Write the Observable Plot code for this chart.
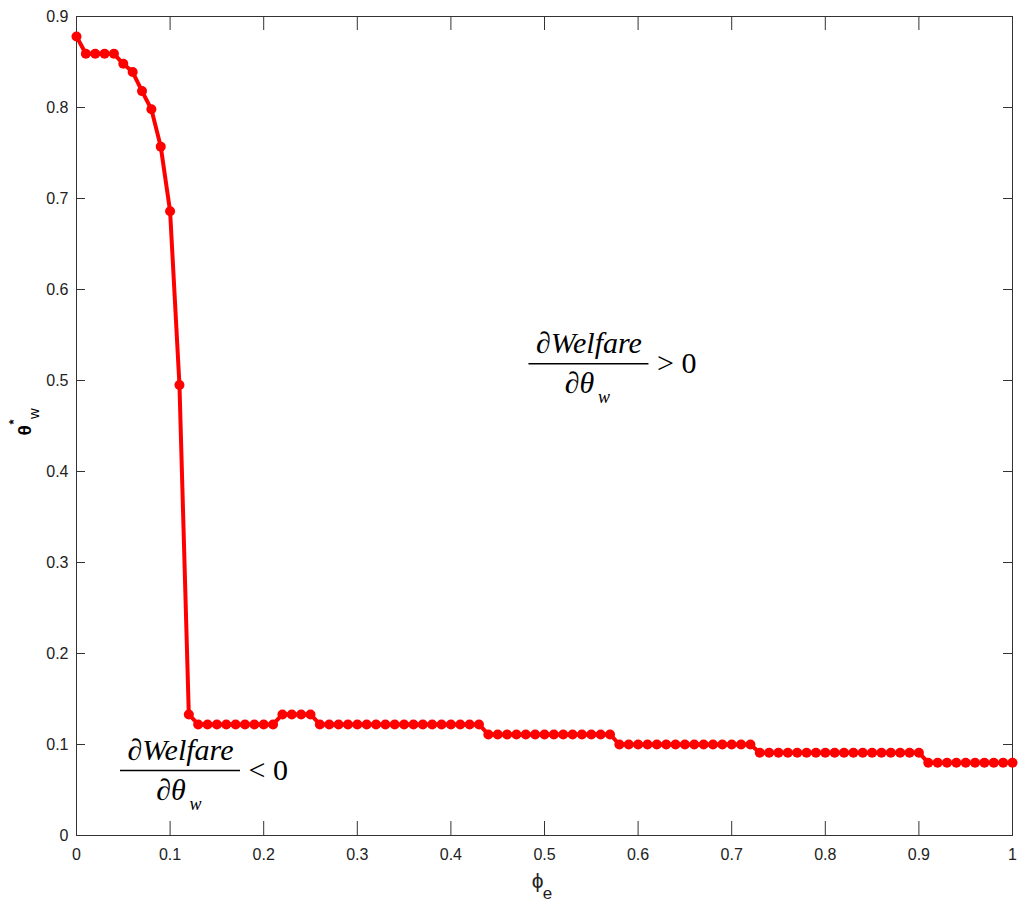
<!DOCTYPE html>
<html><head><meta charset="utf-8">
<script src="https://cdn.jsdelivr.net/npm/d3@7"></script>
<script src="https://cdn.jsdelivr.net/npm/@observablehq/plot@0.6"></script>
<style>body{margin:0;background:#fff} svg{display:block}</style>
</head><body><div id="chart"></div>
<script>
const phiE = [0,0.01,0.02,0.03,0.04,0.05,0.06,0.07,0.08,0.09,
0.10,0.11,0.12,0.13,0.14,0.15,0.16,0.17,0.18,0.19,
0.20,0.21,0.22,0.23,0.24,0.25,0.26,0.27,0.28,0.29,
0.30,0.31,0.32,0.33,0.34,0.35,0.36,0.37,0.38,0.39,
0.40,0.41,0.42,0.43,0.44,0.45,0.46,0.47,0.48,0.49,
0.50,0.51,0.52,0.53,0.54,0.55,0.56,0.57,0.58,0.59,
0.60,0.61,0.62,0.63,0.64,0.65,0.66,0.67,0.68,0.69,
0.70,0.71,0.72,0.73,0.74,0.75,0.76,0.77,0.78,0.79,
0.80,0.81,0.82,0.83,0.84,0.85,0.86,0.87,0.88,0.89,
0.90,0.91,0.92,0.93,0.94,0.95,0.96,0.97,0.98,0.99,1.00];
const thetaW = [0.878,0.859,0.859,0.859,0.859,0.848,0.839,0.818,0.798,0.757,
0.686,0.495,0.133,0.122,0.122,0.122,0.122,0.122,0.122,0.122,
0.122,0.122,0.133,0.133,0.133,0.133,0.122,0.122,0.122,0.122,
0.122,0.122,0.122,0.122,0.122,0.122,0.122,0.122,0.122,0.122,
0.122,0.122,0.122,0.122,0.111,0.111,0.111,0.111,0.111,0.111,
0.111,0.111,0.111,0.111,0.111,0.111,0.111,0.111,0.100,0.100,
0.100,0.100,0.100,0.100,0.100,0.100,0.100,0.100,0.100,0.100,
0.100,0.100,0.100,0.091,0.091,0.091,0.091,0.091,0.091,0.091,
0.091,0.091,0.091,0.091,0.091,0.091,0.091,0.091,0.091,0.091,
0.091,0.080,0.080,0.080,0.080,0.080,0.080,0.080,0.080,0.080,0.080];
const xTicks = [0,0.1,0.2,0.3,0.4,0.5,0.6,0.7,0.8,0.9,1];
const yTicks = [0,0.1,0.2,0.3,0.4,0.5,0.6,0.7,0.8,0.9];
const xTickLabels = ["0","0.1","0.2","0.3","0.4","0.5","0.6","0.7","0.8","0.9","1"];
const yTickLabels = ["0","0.1","0.2","0.3","0.4","0.5","0.6","0.7","0.8","0.9"];
const annotations = [
  {x:0.5475, y:0.5183, sign:"> 0"},
  {x:0.1111, y:0.0714, sign:"< 0"}
];

const data = phiE.map((x,i)=>({x, y: thetaW[i]}));
const sans = "'Liberation Sans Narrow','Liberation Sans',Arial,sans-serif";
const sansW = "'Liberation Sans',Arial,sans-serif";
const serif = "'Liberation Serif','Times New Roman',serif";
const axisColor = "#333";

const plot = Plot.plot({
  width:1021, height:913,
  marginLeft:76, marginRight:9, marginTop:16, marginBottom:78,
  x:{domain:[0,1]}, y:{domain:[0,0.9]},
  style:{fontFamily:sans, fontSize:"16px", color:"#222", background:"#fff", overflow:"visible"},
  marks:[
    Plot.frame({stroke:axisColor}),
    Plot.ruleX(xTicks,{x:d=>d, insetTop:805, stroke:axisColor}),
    Plot.ruleX(xTicks,{x:d=>d, insetBottom:805, stroke:axisColor}),
    Plot.ruleY(yTicks,{y:d=>d, insetRight:927, stroke:axisColor}),
    Plot.ruleY(yTicks,{y:d=>d, insetLeft:927, stroke:axisColor}),
    Plot.axisX({ticks:xTicks, tickSize:0, tickPadding:13, label:null, tickFormat:d=>xTickLabels[xTicks.indexOf(d)]}),
    Plot.axisY({ticks:yTicks, tickSize:0, tickPadding:8, label:null, tickFormat:d=>yTickLabels[yTicks.indexOf(d)]}),
    Plot.line(data,{x:"x", y:"y", stroke:"#ff0000", strokeWidth:4}),
    Plot.dot(data,{x:"x", y:"y", r:5, fill:"#ff0000"}),
    // annotations
    Plot.text(annotations,{x:"x", y:"y", text:()=>"\u2202Welfare", dy:-11, lineAnchor:"bottom", fontFamily:serif, fontStyle:"italic", fontSize:30, letterSpacing:"1px", fill:"#000"}),
    Plot.ruleY(annotations,{y:"y", x1:"x", x2:"x", insetLeft:-60, insetRight:-60, stroke:"#000", strokeWidth:1.5}),
    Plot.text(annotations,{x:"x", y:"y", text:()=>"\u2202\u03b8", dx:-9.5, dy:29.4, lineAnchor:"bottom", fontFamily:serif, fontStyle:"italic", fontSize:30, fill:"#000"}),
    Plot.text(annotations,{x:"x", y:"y", text:()=>"w", textAnchor:"start", dx:9, dy:39, lineAnchor:"bottom", fontFamily:serif, fontStyle:"italic", fontSize:18, fill:"#000"}),
    Plot.text(annotations,{x:"x", y:"y", text:"sign", textAnchor:"start", dx:68, dy:9.4, lineAnchor:"bottom", fontFamily:serif, fontSize:30, fill:"#000"}),
    // y label
    Plot.text(["\u03b8"],{frameAnchor:"left", rotate:-90, dx:-52, dy:9.5, fontWeight:"bold", fontSize:19, fontFamily:sansW, fill:"#000"}),
    Plot.text(["w"],{frameAnchor:"left", rotate:-90, dx:-42, dy:-7, fontSize:15, fontFamily:sansW, fill:"#000"}),
    Plot.text(["*"],{frameAnchor:"left", rotate:-90, dx:-63, dy:-1.5, fontSize:13, fontWeight:"bold", fontFamily:sansW, fill:"#000"}),
    // x label
    Plot.text(["\u03d5"],{frameAnchor:"bottom", dx:-7, dy:52, fontSize:21, fontFamily:sansW, fill:"#222"}),
    Plot.text(["e"],{frameAnchor:"bottom", dx:3, dy:63, fontSize:17, fontFamily:sans, fill:"#222"})
  ]
});
document.getElementById("chart").appendChild(plot);
</script>
</body></html>
